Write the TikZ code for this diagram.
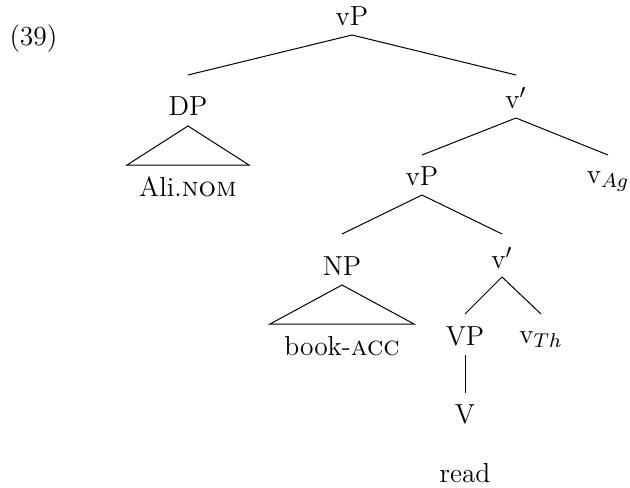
\documentclass[tikz,border=0pt]{standalone}
\usetikzlibrary{positioning}
\tikzset{lab/.style={anchor=base, inner sep=0pt, font=\fontsize{11}{13.2}\selectfont}}

\begin{document}
\begin{tikzpicture}[x=0.4pt,y=-0.4pt]
\useasboundingbox (0,0) rectangle (630,487);

\node[lab, anchor=base west] (ex) at (9,45) {(39)};

\node[lab] (vP) at (352,25) {vP};
\node[lab] (DP) at (188,115) {DP};
\node[lab] (vbar) at (516,108) {v$'$};
\node[lab] (ali) at (188,196) {Ali.\textsc{nom}};
\node[lab] (vP2) at (422,185) {vP};
\node[lab] (vAg) at (608,183) {v$_{Ag}$};
\node[lab] (NP) at (342,275) {NP};
\node[lab] (vbar2) at (502,268) {v$'$};
\node[lab] (book) at (342,355) {book-\textsc{acc}};
\node[lab] (VP) at (465,345) {VP};
\node[lab] (vTh) at (541,343) {v$_{Th}$};
\node[lab] (V) at (465,423) {V};
\node[lab] (read) at (465,482) {read};

% branches
\draw ([yshift=-4pt]vP.base) -- ([yshift=16pt]DP.base);
\draw ([yshift=-4pt]vP.base) -- ([yshift=13.2pt]vbar.base);
\draw ([yshift=-4pt]vbar.base) -- ([yshift=12pt]vP2.base);
\draw ([yshift=-4pt]vbar.base) -- ([yshift=11.2pt]vAg.base);
\draw ([yshift=-4pt]vP2.base) -- ([yshift=16.4pt]NP.base);
\draw ([yshift=-4pt]vP2.base) -- ([yshift=13.6pt]vbar2.base);
\draw ([yshift=-3.6pt]vbar2.base) -- ([yshift=12.4pt]VP.base);
\draw ([yshift=-3.6pt]vbar2.base) -- ([yshift=11.6pt]vTh.base);
\draw ([yshift=-4pt]VP.base) -- ([yshift=12pt]V.base);

% triangles
\draw ([yshift=-4.4pt]DP.base) -- ([shift={(-24.4pt,12.4pt)}]ali.base)
  -- ([shift={(24.4pt,12.4pt)}]ali.base) -- cycle;
\draw ([yshift=-4pt]NP.base) -- ([shift={(-28.8pt,12.4pt)}]book.base)
  -- ([shift={(28.8pt,12.4pt)}]book.base) -- cycle;
\end{tikzpicture}
\end{document}
